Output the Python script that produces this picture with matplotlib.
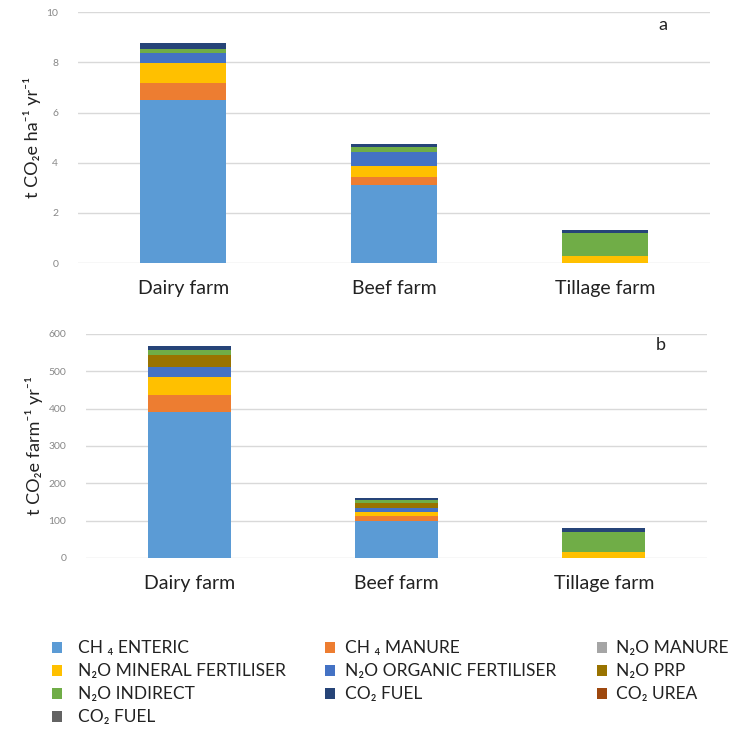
import matplotlib
matplotlib.use("Agg")
import matplotlib.pyplot as plt
from matplotlib.patches import Rectangle

plt.rcParams['font.family'] = ['Lato', 'DejaVu Sans']

# farm types on the x axis
farms = ['Dairy farm', 'Beef farm', 'Tillage farm']

# emission sources, in stacking order (bottom to top)
sources = ['CH ₄ ENTERIC', 'CH ₄ MANURE', 'N₂O MANURE', 'N₂O MINERAL FERTILISER',
           'N₂O ORGANIC FERTILISER', 'N₂O PRP', 'N₂O INDIRECT', 'CO₂ FUEL',
           'CO₂ UREA', 'CO₂ FUEL']
colors = ['#5B9BD5', '#ED7D31', '#A5A5A5', '#FFC000', '#4472C4', '#997300',
          '#70AD47', '#264478', '#9E480E', '#636363']

# (a) t CO2e per ha per yr  -> dairy, beef, tillage
per_ha = [
    [6.49, 3.10, 0.00],   # CH4 enteric
    [0.68, 0.33, 0.00],   # CH4 manure
    [0.00, 0.00, 0.00],   # N2O manure
    [0.80, 0.43, 0.28],   # N2O mineral fertiliser
    [0.40, 0.56, 0.00],   # N2O organic fertiliser
    [0.00, 0.00, 0.00],   # N2O PRP
    [0.16, 0.20, 0.92],   # N2O indirect
    [0.23, 0.12, 0.11],   # CO2 fuel
    [0.00, 0.00, 0.00],   # CO2 urea
    [0.00, 0.00, 0.00],   # CO2 fuel
]

# (b) t CO2e per farm per yr
per_farm = [
    [392, 100, 0],
    [45, 13, 0],
    [0, 0, 0],
    [48, 10, 17],
    [27, 12, 0],
    [32, 13, 0],
    [14, 8, 53],
    [10, 4, 10],
    [0, 0, 0],
    [0, 0, 0],
]

W, H = 740, 731
fig = plt.figure(figsize=(W / 100, H / 100), dpi=100)
ax1 = fig.add_axes([0.105, 0.640, 0.855, 0.3434])
ax2 = fig.add_axes([0.116, 0.2367, 0.840, 0.3064])


def stacked(ax, data, width, ymax, step, ylabel, tag):
    x = range(len(farms))
    bottom = [0.0] * len(farms)
    for vals, c in zip(data, colors):
        ax.bar(x, vals, width, bottom=bottom, color=c, zorder=3)
        bottom = [b + v for b, v in zip(bottom, vals)]
    ax.set_xlim(-0.5, len(farms) - 0.5)
    ax.set_ylim(0, ymax)
    ax.set_yticks(range(0, ymax + 1, step))
    ax.set_xticks(list(x))
    ax.set_xticklabels(farms, fontsize=14, color='#222222')
    ax.tick_params(axis='y', length=0, pad=14, labelsize=7.5, labelcolor='#888888')
    ax.tick_params(axis='x', length=0, pad=12)
    ax.grid(axis='y', color='#D9D9D9', linewidth=1, zorder=0)
    for s in ax.spines.values():
        s.set_visible(False)
    ax.set_ylabel(ylabel, fontsize=13, color='#222222', labelpad=4)
    ax.text(0.925, 0.95, tag, transform=ax.transAxes, fontsize=13,
            ha='center', va='center', color='#222222')


stacked(ax1, per_ha, 0.41, 10, 2, 't CO₂e ha⁻¹ yr⁻¹', 'a')
stacked(ax2, per_farm, 0.40, 600, 100, 't CO₂e farm⁻¹ yr⁻¹', 'b')

# legend: three columns filled row by row (pixel positions)
col_marker = [57, 330, 602]
col_text = [78, 345, 616]
row_y = [648, 671, 694, 717]
for i, (name, c) in enumerate(zip(sources, colors)):
    r, k = divmod(i, 3)
    y = row_y[r]
    fig.add_artist(Rectangle(((col_marker[k] - 5) / W, (H - y - 5) / H), 10 / W, 11 / H,
                             transform=fig.transFigure, facecolor=c, edgecolor='none'))
    fig.text(col_text[k] / W, (H - y) / H, name, fontsize=12.5, color='#222222',
             ha='left', va='center')

fig.savefig('out.png', dpi=100)
